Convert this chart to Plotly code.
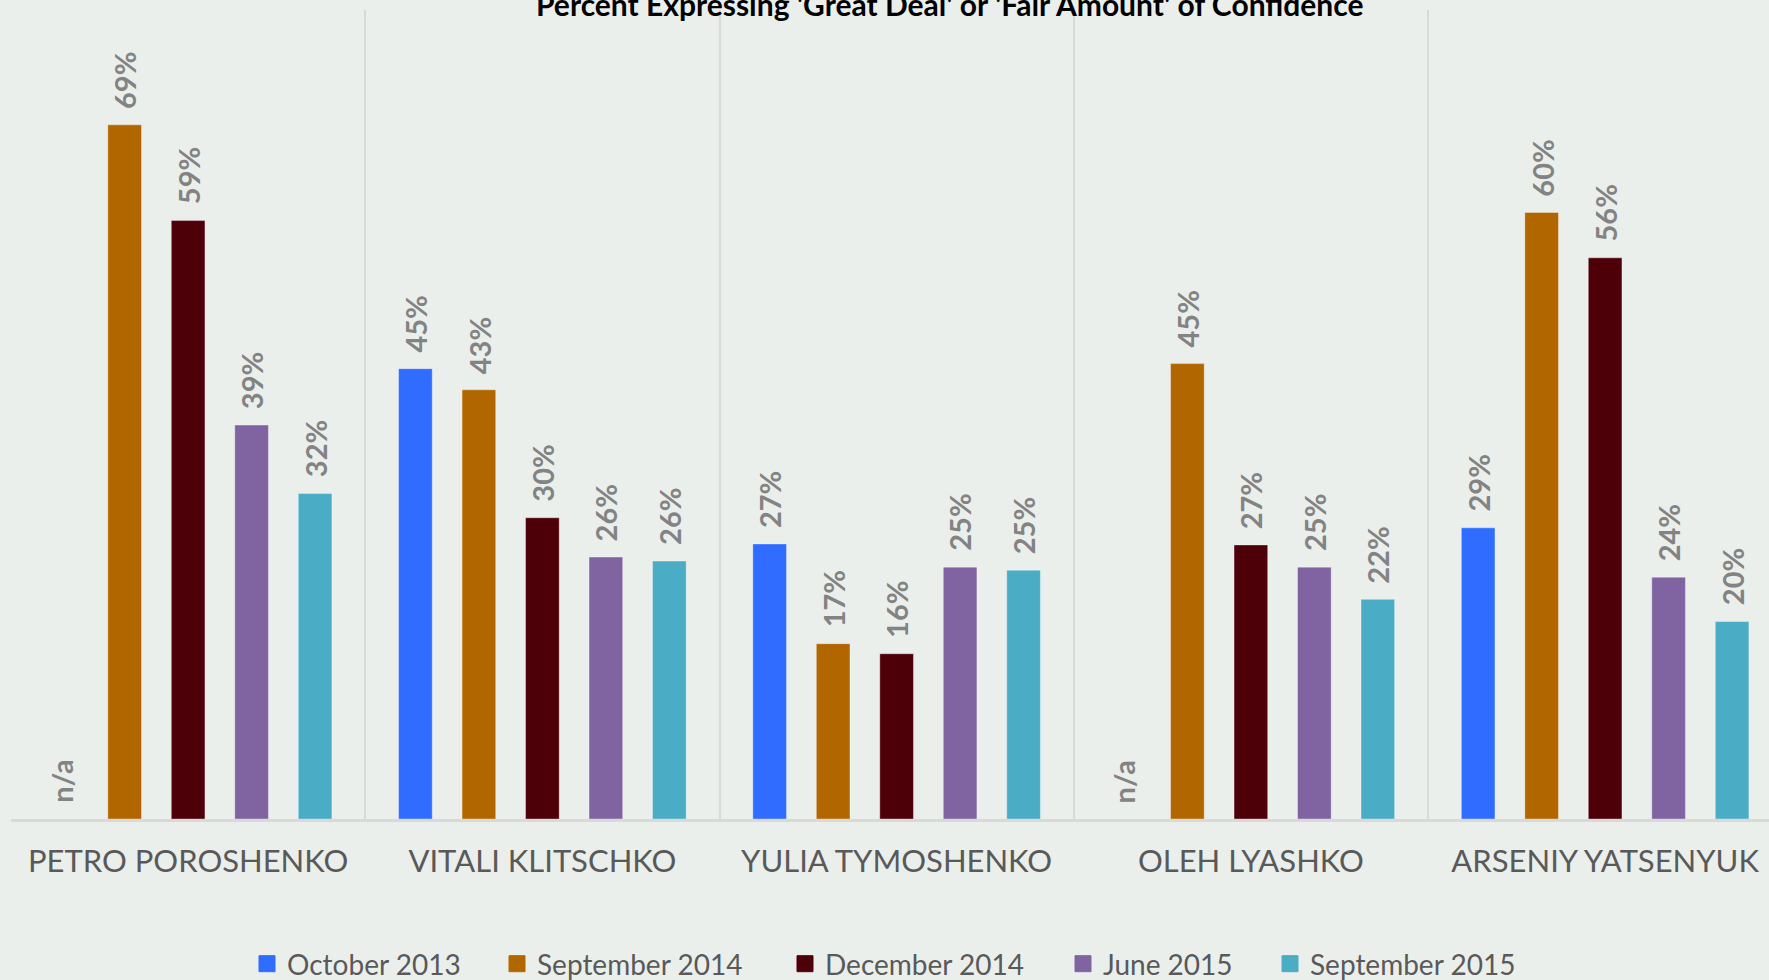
import plotly.graph_objects as go

categories = ["PETRO POROSHENKO", "VITALI KLITSCHKO", "YULIA TYMOSHENKO", "OLEH LYASHKO", "ARSENIY YATSENYUK"]
series_names = ["October 2013", "September 2014", "December 2014", "June 2015", "September 2015"]

oct_2013 = [None, 44.7, 27.3, None, 28.9]
sep_2014 = [68.9, 42.6, 17.4, 45.2, 60.2]
dec_2014 = [59.4, 29.9, 16.4, 27.2, 55.7]
jun_2015 = [39.1, 26.0, 25.0, 25.0, 24.0]
sep_2015 = [32.3, 25.6, 24.7, 21.8, 19.6]

series_values = [oct_2013, sep_2014, dec_2014, jun_2015, sep_2015]
colors = ["#2F6CFF", "#B26600", "#4E0008", "#8064A2", "#4BACC6"]

title_text = "Percent Expressing 'Great Deal' or 'Fair Amount' of Confidence"

BG = "#EBEFEC"
BARGAP = 0.104
GROUPGAP = 0.47
LABEL_FONT = dict(family="Lato", size=29, color="#838383", weight="bold")

# legend square centres (px) for each series
legend_centres = [267, 517, 805, 1083, 1290]

fig = go.Figure()
legend_ids = ["legend", "legend2", "legend3", "legend4", "legend5"]
for name, vals, col, lid in zip(series_names, series_values, colors, legend_ids):
    fig.add_trace(go.Bar(
        x=categories, y=vals, name=name, showlegend=False,
        marker=dict(color=col, line=dict(color="rgba(255,255,255,0.35)", width=1)),
        hoverinfo="skip",
    ))
    fig.add_trace(go.Scatter(
        x=[None], y=[None], mode="markers", name=name, legend=lid,
        marker=dict(symbol="square", size=18, color=col, line=dict(width=1, color=col)),
    ))

n = len(series_names)
slot = (1 - BARGAP) / n
annotations = []
for j, vals in enumerate(series_values):
    for i, v in enumerate(vals):
        xpos = i + (j - (n - 1) / 2) * slot
        annotations.append(dict(
            x=xpos, y=0 if v is None else v, xref="x", yref="y",
            text="n/a" if v is None else f"{round(v)}%",
            textangle=-90, showarrow=False, xanchor="center", yanchor="bottom",
            yshift=14, font=LABEL_FONT,
        ))

annotations.append(dict(
    x=(949 - 11) / 1758, y=(819 - 3.5) / 809, xref="paper", yref="paper",
    text=title_text, showarrow=False, xanchor="center", yanchor="middle",
    font=dict(family="Lato", size=30, color="#000000", weight="bold"),
))

legend_common = dict(
    orientation="h", xanchor="left", y=1 - 964 / 980, yanchor="middle",
    xref="container", yref="container",
    font=dict(family="Lato", size=28, color="#595959"),
    bgcolor="rgba(0,0,0,0)", itemclick=False, itemdoubleclick=False,
)
legend_layout = {}
for lid, c in zip(legend_ids, legend_centres):
    legend_layout[lid] = dict(legend_common, x=(c - 20) / 1769)

fig.update_layout(
    width=1769, height=980,
    paper_bgcolor=BG, plot_bgcolor=BG,
    margin=dict(l=11, r=0, t=10, b=161, autoexpand=False),
    barmode="group", bargap=BARGAP, bargroupgap=GROUPGAP,
    annotations=annotations,
    showlegend=True,
    xaxis=dict(
        type="category", range=[-0.5, -0.5 + 1758 / 354.25],
        tickson="boundaries", showgrid=True, gridcolor="#D9D9D9", gridwidth=1.5,
        ticks="", showline=True, linecolor="#D9D9D9", linewidth=2.5,
        tickfont=dict(family="Lato", size=31, color="#595959"),
        ticklabelstandoff=13,
    ),
    yaxis=dict(range=[0, 80.3], showgrid=False, showticklabels=False, zeroline=False,
               showline=False),
    **legend_layout,
)

fig.write_html(
    "out.html",
    config={"displayModeBar": False},
    post_script="document.body.style.margin='0';document.body.style.background='" + BG + "';",
)
